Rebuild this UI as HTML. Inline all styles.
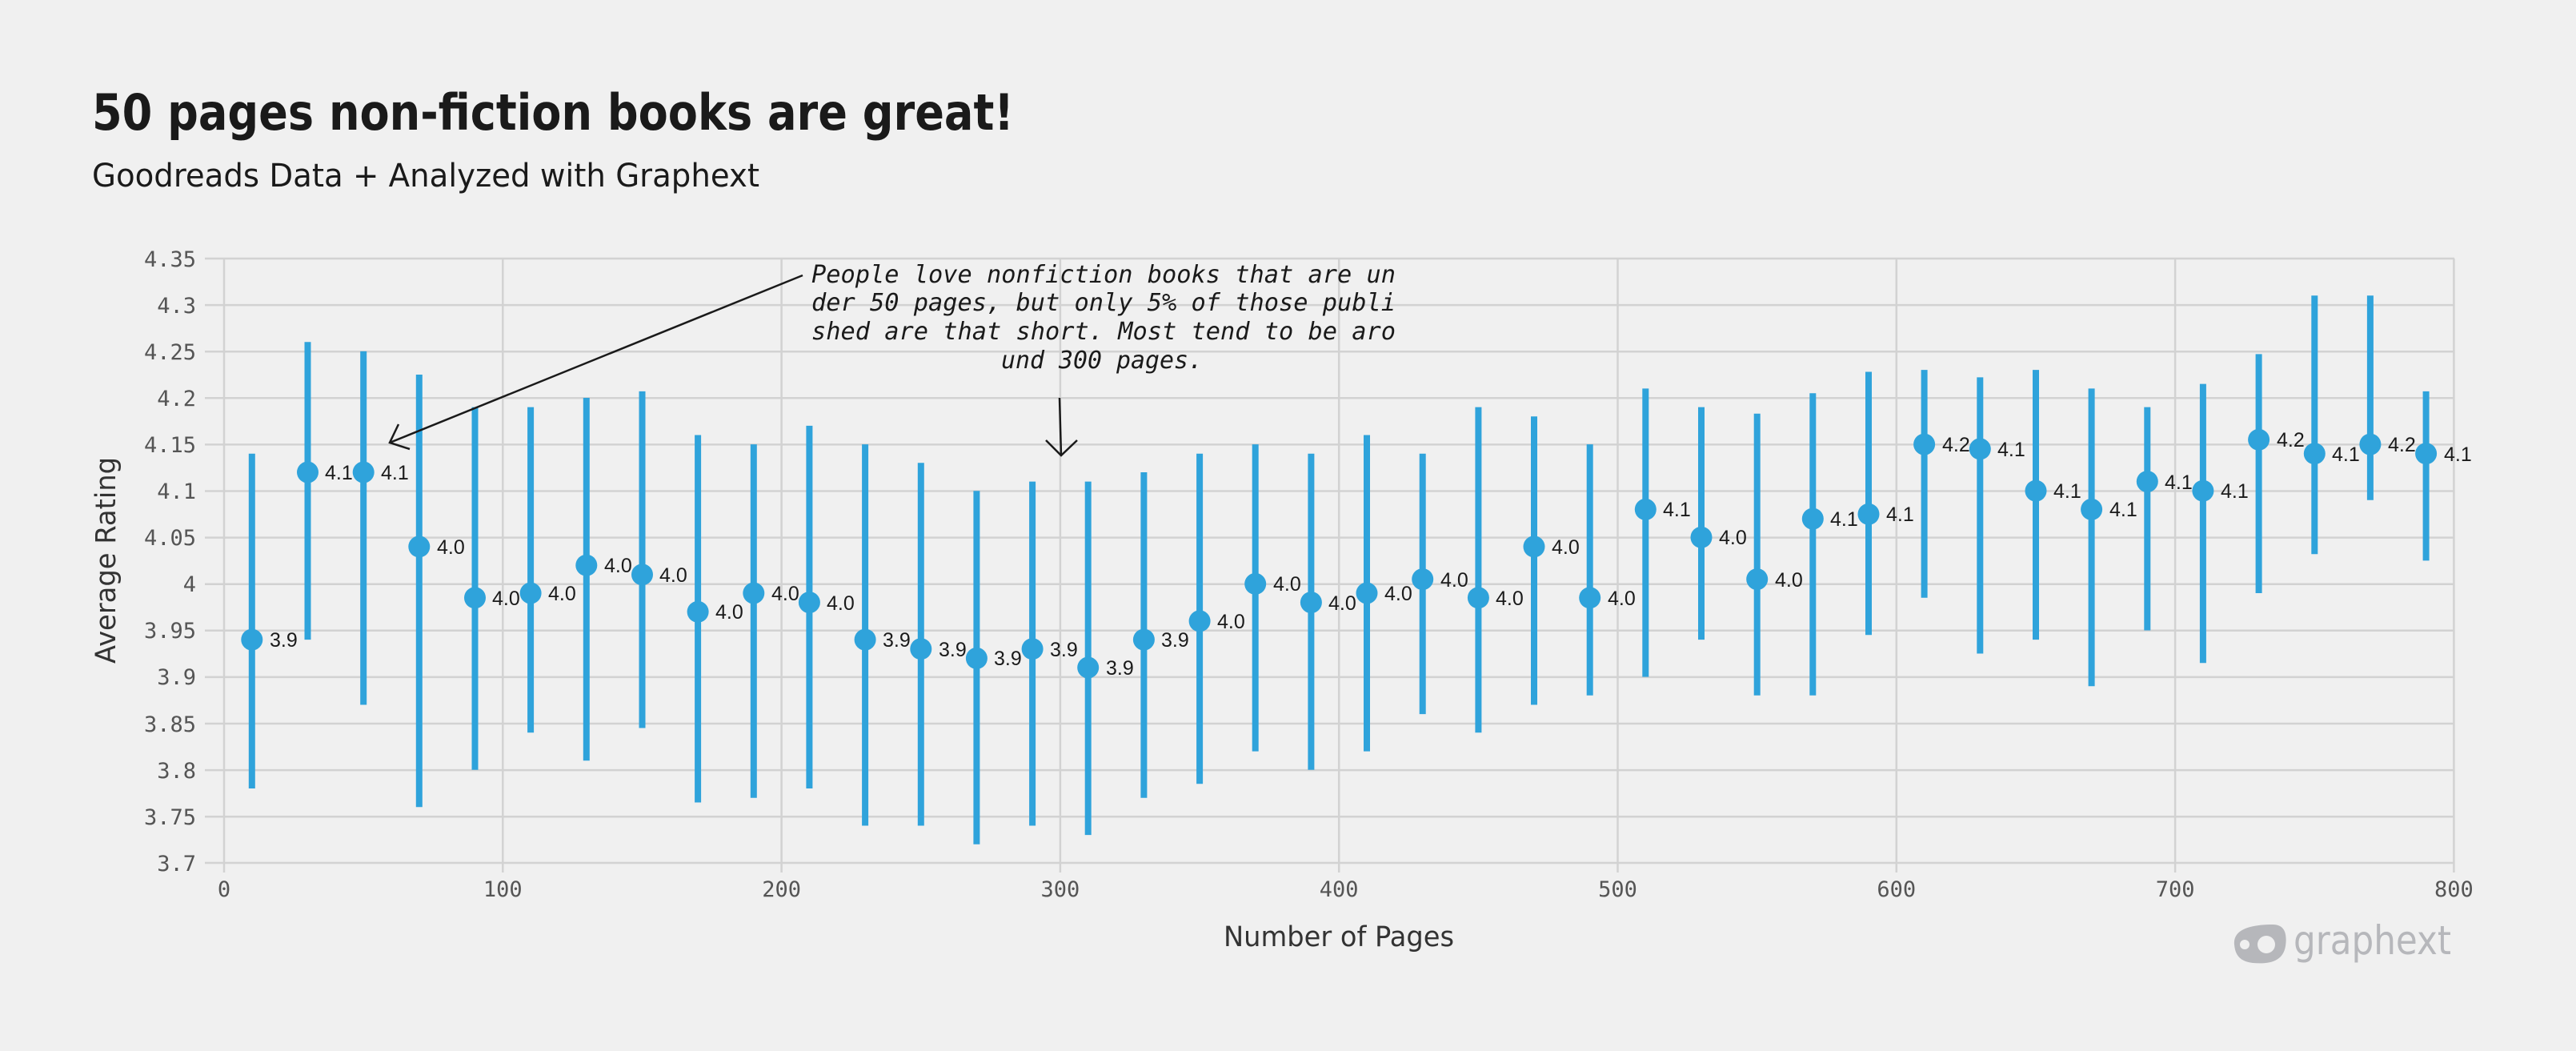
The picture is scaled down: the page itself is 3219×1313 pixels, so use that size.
<!DOCTYPE html>
<html><head><meta charset="utf-8"><style>
html,body{margin:0;padding:0;background:#f0f0f0;}
svg{display:block}
</style></head><body>
<svg width="3219" height="1313" xmlns="http://www.w3.org/2000/svg">
<rect width="3219" height="1313" fill="#f0f0f0"/>
<text x="115" y="162" font-family="DejaVu Sans, Liberation Sans, sans-serif" font-weight="bold" font-size="62" fill="#1a1a1a" textLength="1152" lengthAdjust="spacingAndGlyphs">50 pages non-fiction books are great!</text>
<text x="115" y="233" font-family="DejaVu Sans, Liberation Sans, sans-serif" font-size="40" fill="#1a1a1a" textLength="834" lengthAdjust="spacingAndGlyphs">Goodreads Data + Analyzed with Graphext</text>
<g stroke="#d2d2d2" stroke-width="2.5">
<line x1="256" y1="323" x2="3067" y2="323"/><line x1="256" y1="381.1" x2="3067" y2="381.1"/><line x1="256" y1="439.2" x2="3067" y2="439.2"/><line x1="256" y1="497.3" x2="3067" y2="497.3"/><line x1="256" y1="555.4" x2="3067" y2="555.4"/><line x1="256" y1="613.5" x2="3067" y2="613.5"/><line x1="256" y1="671.6" x2="3067" y2="671.6"/><line x1="256" y1="729.7" x2="3067" y2="729.7"/><line x1="256" y1="787.8" x2="3067" y2="787.8"/><line x1="256" y1="845.9" x2="3067" y2="845.9"/><line x1="256" y1="904" x2="3067" y2="904"/><line x1="256" y1="962.1" x2="3067" y2="962.1"/><line x1="256" y1="1020.2" x2="3067" y2="1020.2"/><line x1="256" y1="1078" x2="3067" y2="1078"/>
<line x1="280" y1="323" x2="280" y2="1090"/><line x1="628.3" y1="323" x2="628.3" y2="1090"/><line x1="976.6" y1="323" x2="976.6" y2="1090"/><line x1="1324.9" y1="323" x2="1324.9" y2="1090"/><line x1="1673.2" y1="323" x2="1673.2" y2="1090"/><line x1="2021.5" y1="323" x2="2021.5" y2="1090"/><line x1="2369.8" y1="323" x2="2369.8" y2="1090"/><line x1="2718.1" y1="323" x2="2718.1" y2="1090"/><line x1="3066.4" y1="323" x2="3066.4" y2="1090"/>
</g>
<g font-family="DejaVu Sans Mono, Liberation Mono, monospace" font-size="27" fill="#555" text-anchor="end">
<text x="245" y="333">4.35</text><text x="245" y="391">4.3</text><text x="245" y="449">4.25</text><text x="245" y="507">4.2</text><text x="245" y="565">4.15</text><text x="245" y="623">4.1</text><text x="245" y="681">4.05</text><text x="245" y="739">4</text><text x="245" y="797">3.95</text><text x="245" y="855">3.9</text><text x="245" y="914">3.85</text><text x="245" y="972">3.8</text><text x="245" y="1030">3.75</text><text x="245" y="1088">3.7</text>
</g>
<g font-family="DejaVu Sans Mono, Liberation Mono, monospace" font-size="27" fill="#555" text-anchor="middle">
<text x="280" y="1120">0</text><text x="628.3" y="1120">100</text><text x="976.6" y="1120">200</text><text x="1324.9" y="1120">300</text><text x="1673.2" y="1120">400</text><text x="2021.5" y="1120">500</text><text x="2369.8" y="1120">600</text><text x="2718.1" y="1120">700</text><text x="3066.4" y="1120">800</text>
</g>
<text x="1673" y="1182" text-anchor="middle" font-family="DejaVu Sans, Liberation Sans, sans-serif" font-size="35" fill="#333" textLength="288" lengthAdjust="spacingAndGlyphs">Number of Pages</text>
<text transform="translate(144,700) rotate(-90)" text-anchor="middle" font-family="DejaVu Sans, Liberation Sans, sans-serif" font-size="35" fill="#333" textLength="258" lengthAdjust="spacingAndGlyphs">Average Rating</text>
<g stroke="#2fa3db" stroke-width="8">
<line x1="314.8" y1="566.7" x2="314.8" y2="985"/><line x1="384.5" y1="427.3" x2="384.5" y2="799.1"/><line x1="454.2" y1="438.9" x2="454.2" y2="880.5"/><line x1="523.8" y1="468" x2="523.8" y2="1008.3"/><line x1="593.5" y1="508.6" x2="593.5" y2="961.8"/><line x1="663.1" y1="508.6" x2="663.1" y2="915.3"/><line x1="732.8" y1="497" x2="732.8" y2="950.2"/><line x1="802.5" y1="488.9" x2="802.5" y2="909.5"/><line x1="872.1" y1="543.5" x2="872.1" y2="1002.5"/><line x1="941.8" y1="555.1" x2="941.8" y2="996.7"/><line x1="1011.4" y1="531.9" x2="1011.4" y2="985"/><line x1="1081.1" y1="555.1" x2="1081.1" y2="1031.5"/><line x1="1150.8" y1="578.3" x2="1150.8" y2="1031.5"/><line x1="1220.4" y1="613.2" x2="1220.4" y2="1054.8"/><line x1="1290.1" y1="601.6" x2="1290.1" y2="1031.5"/><line x1="1359.7" y1="601.6" x2="1359.7" y2="1043.1"/><line x1="1429.4" y1="590" x2="1429.4" y2="996.7"/><line x1="1499.1" y1="566.7" x2="1499.1" y2="979.2"/><line x1="1568.7" y1="555.1" x2="1568.7" y2="938.6"/><line x1="1638.4" y1="566.7" x2="1638.4" y2="961.8"/><line x1="1708" y1="543.5" x2="1708" y2="938.6"/><line x1="1777.7" y1="566.7" x2="1777.7" y2="892.1"/><line x1="1847.4" y1="508.6" x2="1847.4" y2="915.3"/><line x1="1917" y1="520.2" x2="1917" y2="880.5"/><line x1="1986.7" y1="555.1" x2="1986.7" y2="868.8"/><line x1="2056.3" y1="485.4" x2="2056.3" y2="845.6"/><line x1="2126" y1="508.6" x2="2126" y2="799.1"/><line x1="2195.7" y1="516.8" x2="2195.7" y2="868.8"/><line x1="2265.3" y1="491.2" x2="2265.3" y2="868.8"/><line x1="2335" y1="464.5" x2="2335" y2="793.3"/><line x1="2404.6" y1="462.1" x2="2404.6" y2="746.8"/><line x1="2474.3" y1="471.4" x2="2474.3" y2="816.5"/><line x1="2544" y1="462.1" x2="2544" y2="799.1"/><line x1="2613.6" y1="485.4" x2="2613.6" y2="857.2"/><line x1="2683.3" y1="508.6" x2="2683.3" y2="787.5"/><line x1="2752.9" y1="479.6" x2="2752.9" y2="828.2"/><line x1="2822.6" y1="442.4" x2="2822.6" y2="741"/><line x1="2892.3" y1="369.2" x2="2892.3" y2="692.2"/><line x1="2961.9" y1="369.2" x2="2961.9" y2="624.8"/><line x1="3031.6" y1="488.9" x2="3031.6" y2="700.4"/>
</g>
<g fill="#2fa3db">
<circle cx="314.8" cy="799.1" r="13.5"/><circle cx="384.5" cy="590" r="13.5"/><circle cx="454.2" cy="590" r="13.5"/><circle cx="523.8" cy="682.9" r="13.5"/><circle cx="593.5" cy="746.8" r="13.5"/><circle cx="663.1" cy="741" r="13.5"/><circle cx="732.8" cy="706.2" r="13.5"/><circle cx="802.5" cy="717.8" r="13.5"/><circle cx="872.1" cy="764.3" r="13.5"/><circle cx="941.8" cy="741" r="13.5"/><circle cx="1011.4" cy="752.6" r="13.5"/><circle cx="1081.1" cy="799.1" r="13.5"/><circle cx="1150.8" cy="810.7" r="13.5"/><circle cx="1220.4" cy="822.4" r="13.5"/><circle cx="1290.1" cy="810.7" r="13.5"/><circle cx="1359.7" cy="834" r="13.5"/><circle cx="1429.4" cy="799.1" r="13.5"/><circle cx="1499.1" cy="775.9" r="13.5"/><circle cx="1568.7" cy="729.4" r="13.5"/><circle cx="1638.4" cy="752.6" r="13.5"/><circle cx="1708" cy="741" r="13.5"/><circle cx="1777.7" cy="723.6" r="13.5"/><circle cx="1847.4" cy="746.8" r="13.5"/><circle cx="1917" cy="682.9" r="13.5"/><circle cx="1986.7" cy="746.8" r="13.5"/><circle cx="2056.3" cy="636.4" r="13.5"/><circle cx="2126" cy="671.3" r="13.5"/><circle cx="2195.7" cy="723.6" r="13.5"/><circle cx="2265.3" cy="648.1" r="13.5"/><circle cx="2335" cy="642.3" r="13.5"/><circle cx="2404.6" cy="555.1" r="13.5"/><circle cx="2474.3" cy="560.9" r="13.5"/><circle cx="2544" cy="613.2" r="13.5"/><circle cx="2613.6" cy="636.4" r="13.5"/><circle cx="2683.3" cy="601.6" r="13.5"/><circle cx="2752.9" cy="613.2" r="13.5"/><circle cx="2822.6" cy="549.3" r="13.5"/><circle cx="2892.3" cy="566.7" r="13.5"/><circle cx="2961.9" cy="555.1" r="13.5"/><circle cx="3031.6" cy="566.7" r="13.5"/>
</g>
<g font-family="Liberation Sans, Arial, sans-serif" font-size="25" fill="#1a1a1a">
<text x="337" y="808">3.9</text><text x="406" y="599">4.1</text><text x="476" y="599">4.1</text><text x="546" y="692">4.0</text><text x="615" y="756">4.0</text><text x="685" y="750">4.0</text><text x="755" y="715">4.0</text><text x="824" y="727">4.0</text><text x="894" y="773">4.0</text><text x="964" y="750">4.0</text><text x="1033" y="762">4.0</text><text x="1103" y="808">3.9</text><text x="1173" y="820">3.9</text><text x="1242" y="831">3.9</text><text x="1312" y="820">3.9</text><text x="1382" y="843">3.9</text><text x="1451" y="808">3.9</text><text x="1521" y="785">4.0</text><text x="1591" y="738">4.0</text><text x="1660" y="762">4.0</text><text x="1730" y="750">4.0</text><text x="1800" y="733">4.0</text><text x="1869" y="756">4.0</text><text x="1939" y="692">4.0</text><text x="2009" y="756">4.0</text><text x="2078" y="645">4.1</text><text x="2148" y="680">4.0</text><text x="2218" y="733">4.0</text><text x="2287" y="657">4.1</text><text x="2357" y="651">4.1</text><text x="2427" y="564">4.2</text><text x="2496" y="570">4.1</text><text x="2566" y="622">4.1</text><text x="2636" y="645">4.1</text><text x="2705" y="611">4.1</text><text x="2775" y="622">4.1</text><text x="2845" y="558">4.2</text><text x="2914" y="576">4.1</text><text x="2984" y="564">4.2</text><text x="3054" y="576">4.1</text>
</g>
<g font-family="DejaVu Sans Mono, Liberation Mono, monospace" font-style="italic" font-size="30" fill="#1a1a1a">
<text x="1014" y="353" textLength="730" lengthAdjust="spacingAndGlyphs">People love nonfiction books that are un</text>
<text x="1014" y="388" textLength="730" lengthAdjust="spacingAndGlyphs">der 50 pages, but only 5% of those publi</text>
<text x="1014" y="424" textLength="730" lengthAdjust="spacingAndGlyphs">shed are that short. Most tend to be aro</text>
<text x="1377" y="460" text-anchor="middle" textLength="252" lengthAdjust="spacingAndGlyphs">und 300 pages.</text>
</g>
<g stroke="#1a1a1a" stroke-width="2.5" fill="none">
<line x1="1003" y1="344" x2="487" y2="553"/>
<polyline points="498,530 487,553 512,561"/>
<line x1="1324" y1="497" x2="1326" y2="569"/>
<polyline points="1307,550 1326,569 1346,550"/>
</g>
<g fill="#b6b7bb">
<path d="M2792,1180 C2790,1160 2815,1155 2840,1155 C2856,1155 2858,1168 2856,1182 C2853,1200 2838,1205 2815,1203 C2798,1201 2793,1192 2792,1180 Z"/>
</g>
<circle cx="2805" cy="1180" r="6" fill="#f0f0f0"/>
<circle cx="2832" cy="1180" r="11" fill="#f0f0f0"/>
<text x="2866" y="1192" font-family="DejaVu Sans, Liberation Sans, sans-serif" font-size="50" fill="#b6b7bb" textLength="197" lengthAdjust="spacingAndGlyphs">graphext</text>
</svg>
</body></html>
